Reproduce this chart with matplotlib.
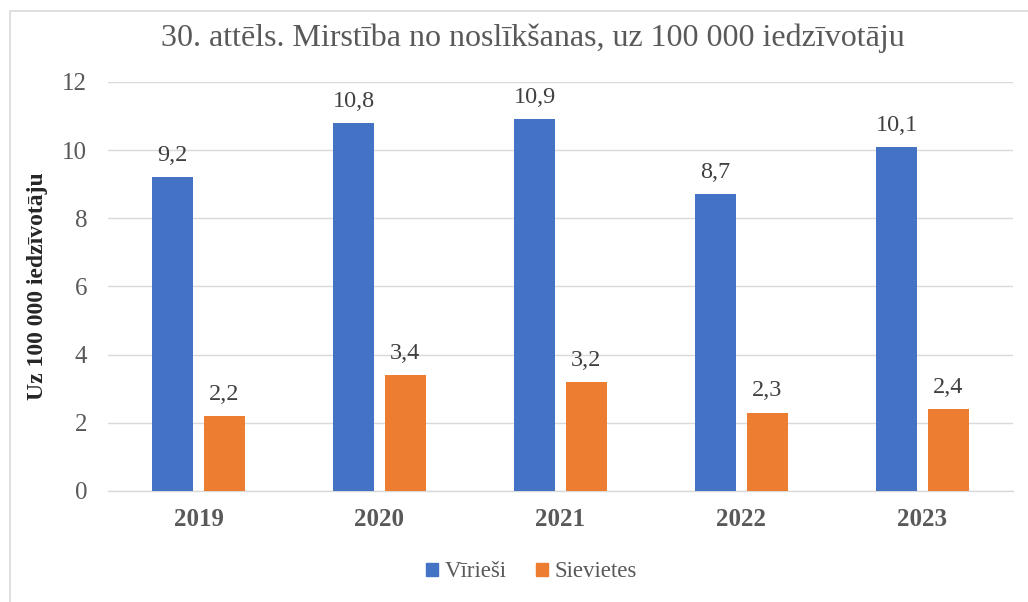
import matplotlib.pyplot as plt
import matplotlib.patches as mpatches
import numpy as np

years = ['2019', '2020', '2021', '2022', '2023']
virriesi = [9.2, 10.8, 10.9, 8.7, 10.1]
sievietes = [2.2, 3.4, 3.2, 2.3, 2.4]
series_names = ['Vīrieši', 'Sievietes']

BLUE = '#4472C4'
ORANGE = '#ED7D31'
GRID = '#D9D9D9'
TXT = '#595959'

plt.rcParams['font.family'] = ['Liberation Serif', 'DejaVu Serif']

fig = plt.figure(figsize=(10.28, 6.02), dpi=100)
ax = fig.add_axes([0.105, 0.1844, 0.8804, 0.6794])

x = np.arange(len(years))
w = 0.227
off = 0.143
b1 = ax.bar(x - off, virriesi, w, color=BLUE, zorder=3)
b2 = ax.bar(x + off, sievietes, w, color=ORANGE, zorder=3)

for bars, vals in ((b1, virriesi), (b2, sievietes)):
    for r, v in zip(bars, vals):
        ax.annotate(f'{v:.1f}'.replace('.', ','),
                    (r.get_x() + r.get_width() / 2, r.get_height()),
                    xytext=(0, 8), textcoords='offset points',
                    ha='center', va='bottom', fontsize=17.5, color='#404040')

ax.set_xlim(-0.5, 4.5)
ax.set_ylim(0, 12)
ax.set_yticks(range(0, 13, 2))
ax.yaxis.grid(True, color=GRID, lw=1, zorder=0)
ax.set_axisbelow(True)
for s in ('top', 'right', 'left'):
    ax.spines[s].set_visible(False)
ax.spines['bottom'].set_color(GRID)
ax.spines['bottom'].set_linewidth(1)
ax.tick_params(axis='both', length=0, colors=TXT, labelsize=18)
ax.tick_params(axis='x', pad=12)
ax.tick_params(axis='y', pad=15)
ax.set_xticks(x)
ax.set_xticklabels(years, fontweight='bold')

ax.set_ylabel('Uz 100 000 iedzīvotāju', fontsize=17, fontweight='bold',
              color='#262626', labelpad=10.5)

fig.text(0.518, 0.936, '30. attēls. Mirstība no noslīkšanas, uz 100 000 iedzīvotāju',
         ha='center', va='center', fontsize=23, color=TXT)

handles = [mpatches.Patch(color=BLUE, label=series_names[0]),
           mpatches.Patch(color=ORANGE, label=series_names[1])]
leg = fig.legend(handles=handles, loc='center', bbox_to_anchor=(0.517, 0.05),
                 ncol=2, frameon=False, fontsize=16.5, handlelength=0.5,
                 handleheight=0.5, handletextpad=0.3, columnspacing=1.3)
for t in leg.get_texts():
    t.set_color(TXT)

# outer frame of the chart area
fig.patches.append(mpatches.Rectangle((10 / 1028, -0.1), 1.2, 1 - 10.5 / 602 + 0.1,
                                      transform=fig.transFigure, fill=False,
                                      edgecolor=GRID, lw=1.2))

fig.savefig('out.png', dpi=100)
